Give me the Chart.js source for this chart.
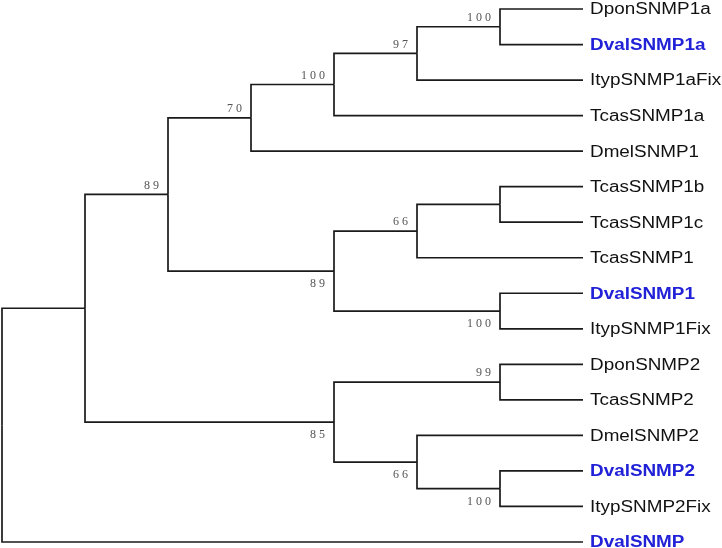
<!DOCTYPE html>
<html>
<head>
<meta charset="utf-8">
<script src="https://cdn.jsdelivr.net/npm/chart.js@4"></script>
<style>
  html, body { margin: 0; padding: 0; background: #fff; }
  #wrap { width: 722px; height: 548px; }
</style>
</head>
<body>
<div id="wrap"><canvas id="tree-chart"></canvas></div>
<script>
// leaves, top to bottom
const leafNames = ['DponSNMP1a', 'DvalSNMP1a', 'ItypSNMP1aFix', 'TcasSNMP1a', 'DmelSNMP1',
    'TcasSNMP1b', 'TcasSNMP1c', 'TcasSNMP1', 'DvalSNMP1', 'ItypSNMP1Fix',
    'DponSNMP2', 'TcasSNMP2', 'DmelSNMP2', 'DvalSNMP2', 'ItypSNMP2Fix', 'DvalSNMP']
const leafParent = ['G', 'G', 'F', 'E', 'D', 'J', 'J', 'H', 'I', 'I', 'L', 'L', 'M', 'N', 'N', 'root']
const highlighted = ['DvalSNMP1a', 'DvalSNMP1', 'DvalSNMP2', 'DvalSNMP']
const leafDepth = 7

// internal nodes
const nodeNames = ['root', 'A', 'B', 'D', 'E', 'F', 'G', 'C', 'H', 'J', 'I', 'K', 'L', 'M', 'N']
const nodeParent = [null, 'root', 'A', 'B', 'D', 'E', 'F', 'B', 'C', 'H', 'C', 'A', 'K', 'K', 'M']
const nodeDepth = [0, 1, 2, 3, 4, 5, 6, 4, 5, 6, 6, 4, 6, 5, 6]
const nodeSupport = ['', '', '89', '70', '100', '97', '100', '89', '66', '', '100', '85', '99', '66', '100']

// work out y of every node (mean of its children)
const nodeY = {}
const nodeX = {}
const kids = {}
nodeNames.forEach((n, i) => { nodeX[n] = nodeDepth[i]; kids[n] = [] })
leafNames.forEach((n, i) => { nodeX[n] = leafDepth; nodeY[n] = i; kids[leafParent[i]].push(n) })
nodeNames.forEach((n, i) => { if (nodeParent[i]) kids[nodeParent[i]].push(n) })

const getY = (n) => {
    if (nodeY[n] !== undefined) return nodeY[n]
    const ys = kids[n].map(getY)
    nodeY[n] = (Math.min(...ys) + Math.max(...ys)) / 2
    return nodeY[n]
}
getY('root')

// one dataset per branch (elbow)
const datasets = []
const addBranch = (child, parent) => {
    datasets.push({
        data: [
            {x: nodeX[parent], y: nodeY[parent]},
            {x: nodeX[parent], y: nodeY[child]},
            {x: nodeX[child], y: nodeY[child]}
        ],
        borderColor: '#1a1a1a',
        borderWidth: 1.7,
        pointRadius: 0,
        tension: 0,
        fill: false,
        clip: false
    })
}
leafNames.forEach((n, i) => addBranch(n, leafParent[i]))
nodeNames.forEach((n, i) => { if (nodeParent[i]) addBranch(n, nodeParent[i]) })

const labelPlugin = {
    id: 'treeLabels',
    afterDatasetsDraw(chart) {
        const ctx = chart.ctx
        const xs = chart.scales.x
        const ys = chart.scales.y
        ctx.save()

        // tip labels
        ctx.textBaseline = 'middle'
        ctx.textAlign = 'left'
        leafNames.forEach((n) => {
            const blue = highlighted.includes(n)
            ctx.font = (blue ? 'bold ' : '') + '16px "Liberation Sans", Arial, sans-serif'
            ctx.fillStyle = blue ? '#2121d8' : '#111'
            ctx.save()
            ctx.translate(xs.getPixelForValue(leafDepth) + 7, ys.getPixelForValue(nodeY[n]) + 1)
            ctx.scale(1.18, 1)
            ctx.fillText(n, 0, 0)
            ctx.restore()
        })

        // bootstrap values
        ctx.font = '12px "Liberation Serif", "DejaVu Serif", serif'
        ctx.fillStyle = '#555'
        ctx.letterSpacing = '3px'
        nodeNames.forEach((n, i) => {
            const s = nodeSupport[i]
            if (!s) return
            const p = nodeParent[i]
            const above = nodeY[n] < nodeY[p]
            const w = ctx.measureText(s).width
            const px = xs.getPixelForValue(nodeX[n]) - 6 - w
            const py = ys.getPixelForValue(nodeY[n]) + (above ? -9 : 13)
            ctx.fillText(s, px, py)
        })
        ctx.restore()
    }
}

new Chart(document.getElementById('tree-chart'), {
    type: 'line',
    data: { datasets: datasets },
    options: {
        responsive: true,
        maintainAspectRatio: false,
        animation: false,
        layout: { padding: { left: 2, right: 139, top: 9, bottom: 6 } },
        plugins: {
            legend: { display: false },
            tooltip: { enabled: false }
        },
        scales: {
            x: { type: 'linear', min: 0, max: leafDepth, display: false },
            y: { type: 'linear', min: 0, max: leafNames.length - 1, reverse: true, display: false }
        }
    },
    plugins: [labelPlugin]
})
</script>
</body>
</html>
